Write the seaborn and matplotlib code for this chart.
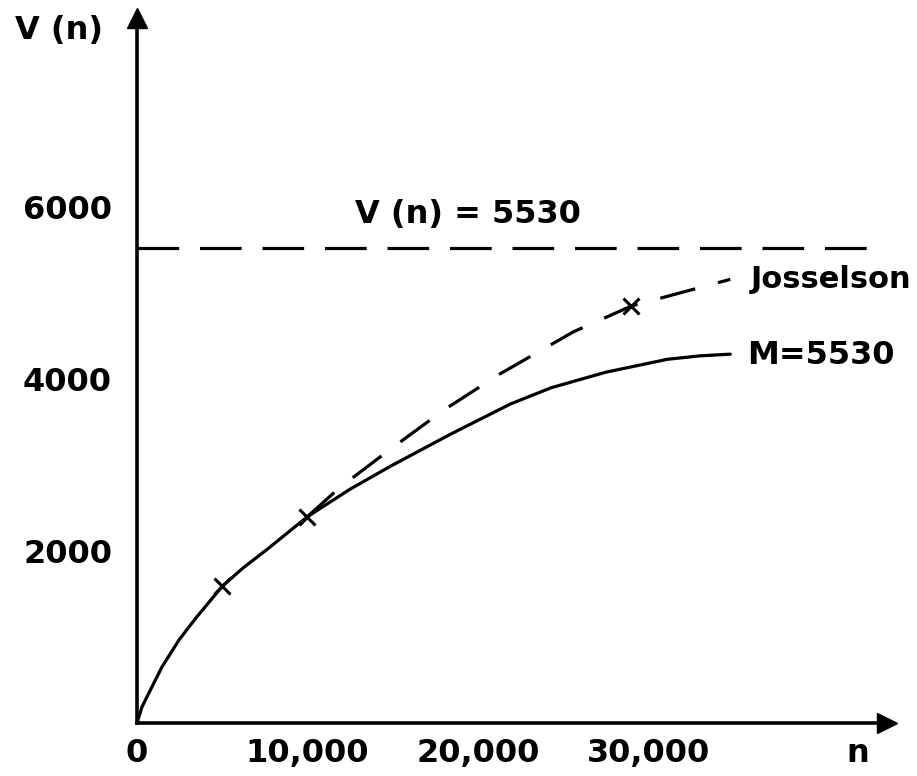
import numpy as np
import pandas as pd
import matplotlib
matplotlib.use("Agg")
import matplotlib.pyplot as plt
import seaborn as sns

# values
n_model = [0, 290, 700, 1460, 2460, 3450, 5000, 6200, 7700, 10000, 12500, 14900,
           18400, 21900, 24300, 27500, 31100, 33000, 34800]
v_model = [0, 186, 350, 650, 965, 1220, 1590, 1800, 2030, 2400, 2720, 2990,
           3360, 3710, 3900, 4080, 4230, 4270, 4290]

n_joss = [10000, 11900, 14900, 18000, 21200, 25600, 29000, 34800]
v_joss = [2400, 2740, 3190, 3640, 4050, 4550, 4850, 5160]

n_marks = [5000, 10000, 29000]
v_marks = [1590, 2400, 4850]

v_limit = 5530
n_limit_end = 43500

x_ticks = [0, 10000, 20000, 30000]
x_labels = ["0", "10,000", "20,000", "30,000"]
y_ticks = [2000, 4000, 6000]
y_labels = ["2000", "4000", "6000"]

sns.set_style("white")
plt.rcParams['font.family'] = ['DejaVu Sans']
plt.rcParams['text.color'] = 'black'
plt.rcParams['lines.scale_dashes'] = False

fig = plt.figure(figsize=(9.17, 7.76), dpi=100)
ax = fig.add_axes([137 / 917, 53 / 776, 0.818, 0.9085])

model = pd.DataFrame({"n": n_model, "V": v_model})
joss = pd.DataFrame({"n": n_joss, "V": v_joss})
limit = pd.DataFrame({"n": [0, n_limit_end], "V": [v_limit, v_limit]})
marks = pd.DataFrame({"n": n_marks, "V": v_marks})

sns.lineplot(data=model, x="n", y="V", ax=ax, color="black", lw=2.3, sort=False)
sns.lineplot(data=joss, x="n", y="V", ax=ax, color="black", lw=2.3, sort=False,
             linestyle=(0, (26, 17)))
sns.lineplot(data=limit, x="n", y="V", ax=ax, color="black", lw=2.3, sort=False,
             linestyle=(0, (30, 15)))
ax.plot(marks["n"], marks["V"], ls="none", marker="x", ms=12, mew=2.2, color="black")

ax.set_xlim(0, 44000)
ax.set_ylim(0, 8200)

for s in ["top", "right"]:
    ax.spines[s].set_visible(False)
for s in ["left", "bottom"]:
    ax.spines[s].set_linewidth(2.6)
    ax.spines[s].set_color("black")

# arrow heads on the axes
ax.plot(1, 0, ">k", ms=14, transform=ax.transAxes, clip_on=False)
ax.plot(0, 1, "^k", ms=14, transform=ax.transAxes, clip_on=False)

tfont = dict(fontsize=23, fontweight="bold", color="black")
ax.set_xticks(x_ticks)
ax.set_xticklabels(x_labels, **tfont)
ax.set_yticks(y_ticks)
ax.set_yticklabels(y_labels, **tfont)
ax.tick_params(axis="x", direction="in", length=11, width=2, pad=11, colors="black")
ax.tick_params(axis="y", direction="in", length=13, width=2, pad=18, colors="black")
ax.set_xlabel("")
ax.set_ylabel("")

ax.text(12800, 5920, "V (n) = 5530", ha="left", va="center", **tfont)
ax.text(36000, 5160, "Josselson", ha="left", va="center",
        fontsize=22, fontweight="bold", color="black")
ax.text(35800, 4270, "M=5530", ha="left", va="center", **tfont)
ax.annotate("n", xy=(42300, 0), xytext=(0, -11), textcoords="offset points",
            ha="center", va="top", **tfont)
fig.text(15 / 917, 1 - 30 / 776, "V (n)", ha="left", va="center", **tfont)

fig.savefig("out.png", dpi=100, facecolor="white")
